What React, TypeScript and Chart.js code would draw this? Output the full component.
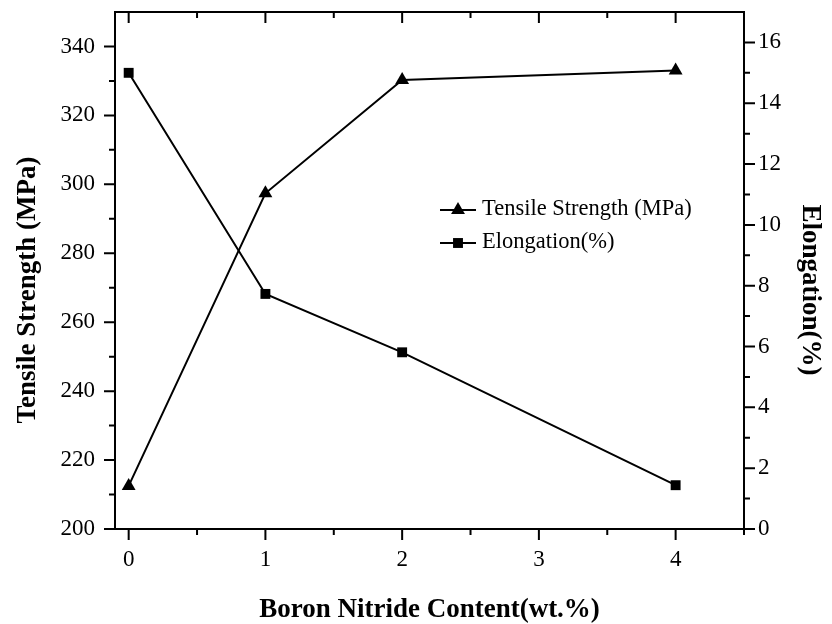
import React, { useEffect, useRef } from "react";
import { Chart, registerables } from "chart.js";

Chart.register(...registerables);

const X_VALUES = [0, 1, 2, 4];
const TENSILE = [212.5, 297.4, 330.3, 333.0];
const ELONGATION = [15.0, 7.73, 5.81, 1.44];

const X_TICKS = [0, 1, 2, 3, 4];
const X_MINOR = [0.5, 1.5, 2.5, 3.5, 4.5];
const Y1_TICKS = [200, 220, 240, 260, 280, 300, 320, 340];
const Y1_MINOR = [210, 230, 250, 270, 290, 310, 330];
const Y2_TICKS = [0, 2, 4, 6, 8, 10, 12, 14, 16];
const Y2_MINOR = [1, 3, 5, 7, 9, 11, 13, 15];

const X_TITLE = "Boron Nitride Content(wt.%)";
const Y1_TITLE = "Tensile Strength (MPa)";
const Y2_TITLE = "Elongation(%)";
const SERIES_LABELS = ["Tensile Strength (MPa)", "Elongation(%)"];

const FONT = "'Liberation Serif', 'Times New Roman', serif";

function drawMarker(ctx: CanvasRenderingContext2D, style: string, x: number, y: number, r: number) {
  ctx.beginPath();
  if (style === "triangle") {
    const h = (Math.sqrt(3) / 2) * r;
    ctx.moveTo(x, y - r);
    ctx.lineTo(x + h, y + r / 2);
    ctx.lineTo(x - h, y + r / 2);
    ctx.closePath();
  } else {
    const s = Math.SQRT1_2 * r;
    ctx.rect(x - s, y - s, 2 * s, 2 * s);
  }
  ctx.fill();
}

const framePlugin = {
  id: "frameTicks",
  afterDraw(chart: any) {
    const { ctx, chartArea: ca, scales } = chart;
    ctx.save();
    ctx.strokeStyle = "#000";
    ctx.fillStyle = "#000";
    ctx.lineWidth = 2;
    ctx.strokeRect(ca.left, ca.top, ca.right - ca.left, ca.bottom - ca.top);
    const MAJ = 11;
    const MIN = 6;
    ctx.beginPath();
    const xt = (vals: number[], len: number) => {
      vals.forEach((v) => {
        const p = scales.x.getPixelForValue(v);
        ctx.moveTo(p, ca.bottom);
        ctx.lineTo(p, ca.bottom + len);
        ctx.moveTo(p, ca.top);
        ctx.lineTo(p, ca.top + len);
      });
    };
    xt(X_TICKS, MAJ);
    xt(X_MINOR, MIN);
    const yl = (vals: number[], len: number) => {
      vals.forEach((v) => {
        const p = scales.y.getPixelForValue(v);
        ctx.moveTo(ca.left - len, p);
        ctx.lineTo(ca.left, p);
      });
    };
    yl(Y1_TICKS, MAJ);
    yl(Y1_MINOR, MIN);
    const yr = (vals: number[], len: number) => {
      vals.forEach((v) => {
        const p = scales.y1.getPixelForValue(v);
        ctx.moveTo(ca.right, p);
        ctx.lineTo(ca.right + len, p);
      });
    };
    yr(Y2_TICKS, MAJ);
    yr(Y2_MINOR, MIN);
    ctx.stroke();

    // axis titles
    ctx.font = `bold 27px ${FONT}`;
    ctx.textAlign = "center";
    ctx.textBaseline = "alphabetic";
    ctx.fillText(X_TITLE, (ca.left + ca.right) / 2, 617);
    ctx.save();
    ctx.translate(35, 290);
    ctx.rotate(-Math.PI / 2);
    ctx.fillText(Y1_TITLE, 0, 0);
    ctx.restore();
    ctx.save();
    ctx.translate(803, 290);
    ctx.rotate(Math.PI / 2);
    ctx.fillText(Y2_TITLE, 0, 0);
    ctx.restore();

    // legend
    const rows = [
      { y: 210, style: "triangle", r: 8 },
      { y: 243, style: "rect", r: 7 },
    ];
    ctx.font = `22.5px ${FONT}`;
    ctx.textAlign = "left";
    ctx.textBaseline = "middle";
    rows.forEach((row, i) => {
      ctx.beginPath();
      ctx.moveTo(440, row.y);
      ctx.lineTo(476, row.y);
      ctx.stroke();
      drawMarker(ctx, row.style, 458, row.y, row.r);
      ctx.fillText(SERIES_LABELS[i], 482, row.y - 1);
    });
    ctx.restore();
  },
};

export default function App() {
  const ref = useRef<HTMLCanvasElement | null>(null);
  useEffect(() => {
    if (!ref.current) return;
    const tickFont = { family: FONT, size: 23 };
    const noGrid = { display: false, drawTicks: false, tickLength: 0 };
    const chart = new Chart(ref.current, {
      type: "line",
      data: {
        datasets: [
          {
            label: SERIES_LABELS[0],
            data: X_VALUES.map((x, i) => ({ x, y: TENSILE[i] })),
            yAxisID: "y",
            borderColor: "#000",
            backgroundColor: "#000",
            borderWidth: 2,
            pointStyle: "triangle",
            pointRadius: 8,
            pointBackgroundColor: "#000",
            pointBorderColor: "#000",
            pointBorderWidth: 0,
            tension: 0,
          },
          {
            label: SERIES_LABELS[1],
            data: X_VALUES.map((x, i) => ({ x, y: ELONGATION[i] })),
            yAxisID: "y1",
            borderColor: "#000",
            backgroundColor: "#000",
            borderWidth: 2,
            pointStyle: "rect",
            pointRadius: 7,
            pointBackgroundColor: "#000",
            pointBorderColor: "#000",
            pointBorderWidth: 0,
            tension: 0,
          },
        ],
      },
      options: {
        responsive: false,
        animation: false,
        layout: { padding: { top: 12, left: 0, right: 0, bottom: 0 } },
        plugins: { legend: { display: false }, tooltip: { enabled: false } },
        scales: {
          x: {
            type: "linear",
            position: "bottom",
            min: -0.1,
            max: 4.5,
            grid: noGrid,
            border: { display: false },
            ticks: { font: tickFont, color: "#000", padding: 17, autoSkip: false, maxRotation: 0 },
            afterBuildTicks: (s: any) => {
              s.ticks = X_TICKS.map((v) => ({ value: v }));
            },
            afterFit: (s: any) => {
              s.height = 95;
              s.paddingLeft = 0;
              s.paddingRight = 0;
            },
          },
          y: {
            type: "linear",
            position: "left",
            min: 200,
            max: 350,
            grid: noGrid,
            border: { display: false },
            ticks: { font: tickFont, color: "#000", padding: 20, autoSkip: false },
            afterBuildTicks: (s: any) => {
              s.ticks = Y1_TICKS.map((v) => ({ value: v }));
            },
            afterFit: (s: any) => {
              s.width = 115;
              s.paddingTop = 0;
              s.paddingBottom = 0;
            },
          },
          y1: {
            type: "linear",
            position: "right",
            min: 0,
            max: 17,
            grid: noGrid,
            border: { display: false },
            ticks: { font: tickFont, color: "#000", padding: 14, autoSkip: false },
            afterBuildTicks: (s: any) => {
              s.ticks = Y2_TICKS.map((v) => ({ value: v }));
            },
            afterFit: (s: any) => {
              s.width = 88;
              s.paddingTop = 0;
              s.paddingBottom = 0;
            },
          },
        },
      } as any,
      plugins: [framePlugin],
    });
    return () => chart.destroy();
  }, []);
  return (
    <div style={{ position: "absolute", left: 0, top: 0, width: 832, height: 624, background: "#fff" }}>
      <canvas ref={ref} width={832} height={624} style={{ display: "block" }} />
    </div>
  );
}
